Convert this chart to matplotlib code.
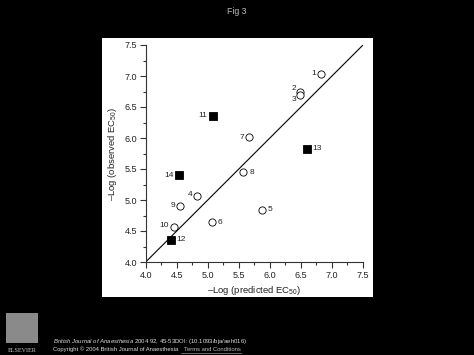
import matplotlib
matplotlib.use("Agg")
import matplotlib.pyplot as plt
from matplotlib.patches import Rectangle
from matplotlib.ticker import MultipleLocator

plt.rcParams['font.family'] = ['Liberation Sans', 'DejaVu Sans']
plt.rcParams['mathtext.fontset'] = 'custom'
plt.rcParams['mathtext.rm'] = 'Liberation Sans'
plt.rcParams['mathtext.it'] = 'Liberation Sans:italic'

# Data
labels = ['1', '2', '3', '4', '5', '6', '7', '8', '9', '10', '11', '12', '13', '14']
predicted = [6.83, 6.49, 6.49, 4.82, 5.88, 5.07, 5.66, 5.57, 4.55, 4.45, 5.09, 4.40, 6.59, 4.54]
observed = [7.04, 6.74, 6.69, 5.06, 4.84, 4.64, 6.01, 5.45, 4.91, 4.56, 6.36, 4.36, 5.83, 5.40]
filled = [False] * 10 + [True] * 4
x_ticks = [4.0, 4.5, 5.0, 5.5, 6.0, 6.5, 7.0, 7.5]
y_ticks = [4.0, 4.5, 5.0, 5.5, 6.0, 6.5, 7.0, 7.5]
identity = [4.0, 7.5]

# label placement (pixels offset, horizontal alignment)
label_pos = {
    '1': (-5, 0, 'right'), '2': (-4, 4, 'right'), '3': (-4, -4, 'right'),
    '4': (-4, 2, 'right'), '5': (5, 0, 'left'), '6': (5, 0, 'left'),
    '7': (-5, 0, 'right'), '8': (6, 0, 'left'), '9': (-5, 0, 'right'),
    '10': (-5, 2, 'right'), '11': (-6, 0, 'right'), '12': (6, 0, 'left'),
    '13': (6, 0, 'left'), '14': (-6, 0, 'right'),
}

W, H = 474, 355
fig = plt.figure(figsize=(W / 100, H / 100), dpi=100)
fig.patch.set_facecolor('black')

# white panel
fig.patches.append(Rectangle((102 / W, 1 - 297 / H), 271 / W, 259 / H,
                             transform=fig.transFigure, facecolor='white',
                             edgecolor='none', zorder=-10))

fig.text(237 / W, 1 - 12 / H, 'Fig 3', color='#bbbbbb', fontsize=6.3,
         ha='center', va='center')

ax = fig.add_axes([145.7 / W, 1 - 262 / H, 217.3 / W, 217 / H])
ax.set_zorder(5)
ax.set_facecolor('none')
ax.set_xlim(4.0, 7.5)
ax.set_ylim(4.0, 7.5)
ax.spines['top'].set_visible(False)
ax.spines['right'].set_visible(False)
for s in ('left', 'bottom'):
    ax.spines[s].set_linewidth(0.8)
    ax.spines[s].set_color('#333333')

ax.set_xticks(x_ticks)
ax.set_yticks(y_ticks)
ax.set_xticklabels([f'{v:.1f}' for v in x_ticks])
ax.set_yticklabels([f'{v:.1f}' for v in y_ticks])
ax.xaxis.set_minor_locator(MultipleLocator(0.25))
ax.yaxis.set_minor_locator(MultipleLocator(0.25))
ax.tick_params(which='major', direction='out', length=4.3, width=0.8,
               color='#333333', labelsize=6.5, pad=2.0, labelcolor='#222222')
ax.tick_params(which='minor', direction='out', length=2.5, width=0.8,
               color='#333333')

ax.plot(identity, identity, color='black', lw=0.8, zorder=1)

for x, y, lab, f in zip(predicted, observed, labels, filled):
    if f:
        ax.plot(x, y, marker='s', ms=5.7, mfc='black', mec='black', mew=0.6,
                ls='none', zorder=3, clip_on=False)
    else:
        ax.plot(x, y, marker='o', ms=5.2, mfc='white', mec='black', mew=0.6,
                ls='none', zorder=3, clip_on=False)
    dx, dy, ha = label_pos[lab]
    ax.annotate(lab, (x, y), xytext=(dx, dy), textcoords='offset pixels',
                ha=ha, va='center', fontsize=6.0, color='#222222')

ax.set_xlabel('\u2013Log (predicted EC$_{50}$)', fontsize=6.8, labelpad=3,
              color='#222222')
ax.set_ylabel('\u2013Log (observed EC$_{50}$)', fontsize=6.8, labelpad=3.5,
              color='#222222')

# footer: logo placeholder
fig.patches.append(Rectangle((6 / W, 1 - 343 / H), 32 / W, 30 / H,
                             transform=fig.transFigure, facecolor='#8a8a8a',
                             edgecolor='none'))
fig.text(22 / W, 1 - 350 / H, 'ELSEVIER', color='#cccccc', fontsize=4.4,
         family='Liberation Serif', ha='center', va='center')

fig.text(53 / W, 1 - 341.5 / H,
         r'$\it{British\ Journal\ of\ Anaesthesia}$' + ' 2004 92, 45-53DOI: (10.1093/bja/aeh016)',
         color='#dddddd', fontsize=4.3, ha='left', va='center')
fig.text(53 / W, 1 - 349.5 / H,
         'Copyright \u00a9 2004 British Journal of Anaesthesia',
         color='#dddddd', fontsize=4.2, ha='left', va='center')
fig.text(241 / W, 1 - 349.5 / H, 'Terms and Conditions', color='#bbbbbb',
         fontsize=4.2, ha='right', va='center')
fig.lines.append(plt.Line2D([181 / W, 241 / W], [1 - 352.8 / H, 1 - 352.8 / H],
                            transform=fig.transFigure, color='#bbbbbb', lw=0.4))

fig.savefig('out.png', dpi=100, facecolor=fig.get_facecolor())
